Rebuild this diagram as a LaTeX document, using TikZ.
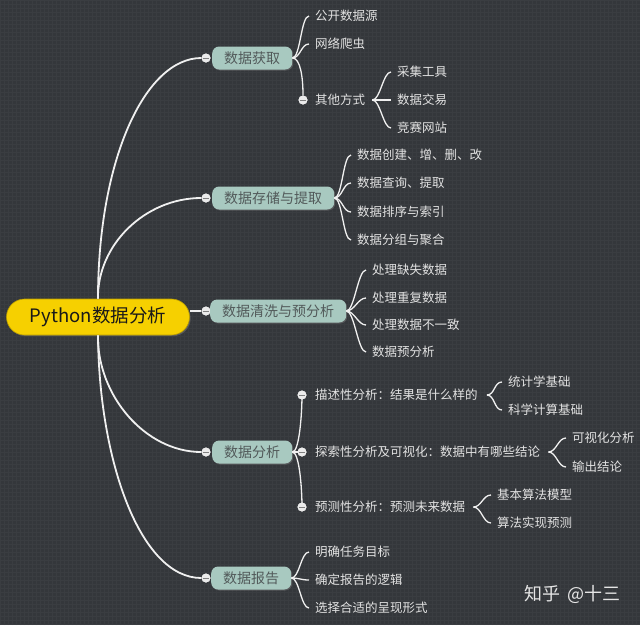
\documentclass[tikz,border=0pt]{standalone}
\usepackage{fontspec}
\setmainfont{Noto Sans CJK SC}
\usetikzlibrary{shadows}
\definecolor{bgc}{RGB}{52,55,59}
\definecolor{gridc}{RGB}{58,61,65}
\definecolor{branchfill}{RGB}{168,201,192}
\definecolor{rootfill}{RGB}{246,208,0}
\definecolor{leaftext}{RGB}{226,226,226}
\definecolor{branchtext}{RGB}{82,90,90}
\definecolor{linec}{RGB}{240,240,240}
\newcommand\brc[3][8]{\draw[conn] (#2) .. controls +(#1,0) and +(-#1,0) .. ([xshift=-6pt]#3.west);}
\begin{document}
\begin{tikzpicture}[x=1pt,y=-1pt,
  rootbox/.style={draw=rootfill!75!black, line width=0.6pt, fill=rootfill, rounded corners=18pt,
    minimum width=183pt, minimum height=36pt, inner sep=0pt,
    font=\fontsize{18.5}{20}\selectfont, text=black!90,
    drop shadow={opacity=0.45, shadow xshift=1.2pt, shadow yshift=-1.2pt}},
  branch/.style={fill=branchfill, rounded corners=7pt, minimum height=23pt, inner xsep=12pt,
    inner ysep=0pt, font=\fontsize{14}{16}\selectfont, text=branchtext, anchor=west,
    drop shadow={opacity=0.45, shadow xshift=1pt, shadow yshift=-1pt}},
  leaf/.style={anchor=west, inner xsep=0pt, inner ysep=1pt, font=\fontsize{12.5}{14}\selectfont, text=leaftext},
  dot/.style={circle, fill=white!92!black, minimum size=9pt, inner sep=0pt,
    path picture={\draw[gray, line width=1pt] ([xshift=-2.8pt]path picture bounding box.center) -- ([xshift=2.8pt]path picture bounding box.center);}},
  mainline/.style={draw=linec, line width=1.8pt},
  conn/.style={draw=linec, line width=1.3pt},
  mark0/.style={font=\fontsize{18}{20}\selectfont, text=white!90!black, anchor=west}
]
\useasboundingbox (0,0) rectangle (640,625);
\fill[bgc] (0,0) rectangle (640,625);
\draw[gridc, line width=0.3pt] (0,0) grid[step=4pt] (640,625);

% root
\node[rootbox] (R) at (98,317) {Python数据分析};

% dots at branch ends
\node[dot] (d1) at (206,58) {};
\node[dot] (d2) at (206,198) {};
\node[dot] (d3) at (206,311) {};
\node[dot] (d4) at (206,452) {};
\node[dot] (d5) at (206,578) {};

% main curves
\draw[mainline] (R.north) .. controls (98,160) and (145,58) .. (d1.west);
\draw[mainline] (R.north) .. controls (97,245) and (145,198) .. (d2.west);
\draw[mainline] (R.east |- d3) -- (d3.west);
\draw[mainline] (R.south) .. controls (97,395) and (145,452) .. (d4.west);
\draw[mainline] (R.south) .. controls (99,460) and (140,578) .. (d5.west);
\node[dot] at (d1) {};
\node[dot] at (d2) {};
\node[dot] at (d3) {};
\node[dot] at (d4) {};
\node[dot] at (d5) {};

% branch nodes
\node[branch] (b1) at (212,58) {数据获取};
\node[branch] (b2) at (212,198) {数据存储与提取};
\node[branch] (b3) at (210,311) {数据清洗与预分析};
\node[branch] (b4) at (212,452) {数据分析};
\node[branch] (b5) at (211,578) {数据报告};

% branch 1
\node[leaf] (l11) at (315,16) {公开数据源};
\node[leaf] (l12) at (315,44) {网络爬虫};
\node[dot] (d13) at (303,100) {};
\node[leaf] (l13) at (315,100) {其他方式};
\brc{b1.east}{l11}
\brc{b1.east}{l12}
\draw[conn] (b1.east) .. controls +(8,0) and +(0,-18) .. (d13.north);
\node[dot] at (d13) {};
\coordinate (t13) at ([xshift=7pt]l13.east);
\node[leaf] (l131) at (397,72) {采集工具};
\node[leaf] (l132) at (397,100) {数据交易};
\node[leaf] (l133) at (397,128) {竞赛网站};
\brc{t13}{l131}
\brc{t13}{l132}
\brc{t13}{l133}

% branch 2
\node[leaf] (l21) at (357,155) {数据创建、增、删、改};
\node[leaf] (l22) at (357,183) {数据查询、提取};
\node[leaf] (l23) at (357,212) {数据排序与索引};
\node[leaf] (l24) at (357,240) {数据分组与聚合};
\brc{b2.east}{l21}
\brc{b2.east}{l22}
\brc{b2.east}{l23}
\brc{b2.east}{l24}

% branch 3
\node[leaf] (l31) at (372,270) {处理缺失数据};
\node[leaf] (l32) at (372,298) {处理重复数据};
\node[leaf] (l33) at (372,325) {处理数据不一致};
\node[leaf] (l34) at (372,352) {数据预分析};
\brc{b3.east}{l31}
\brc{b3.east}{l32}
\brc{b3.east}{l33}
\brc{b3.east}{l34}

% branch 4
\node[dot] (d41) at (302,395) {};
\node[dot] (d42) at (302,452) {};
\node[dot] (d43) at (302,507) {};
\draw[conn] (b4.east) .. controls +(7,0) and +(0,18) .. (d41.center);
\draw[conn] (b4.east) -- (d42.center);
\draw[conn] (b4.east) .. controls +(7,0) and +(0,-18) .. (d43.center);
\node[dot] at (d41) {};
\node[dot] at (d42) {};
\node[dot] at (d43) {};
\node[leaf] (l41) at (315,395) {描述性分析：结果是什么样的};
\node[leaf] (l42) at (315,452) {探索性分析及可视化：数据中有哪些结论};
\node[leaf] (l43) at (315,507) {预测性分析：预测未来数据};
\coordinate (t41) at ([xshift=9pt]l41.east);
\coordinate (t42) at ([xshift=8pt]l42.east);
\coordinate (t43) at ([xshift=8pt]l43.east);
\node[leaf] (l411) at (508,382) {统计学基础};
\node[leaf] (l412) at (508,410) {科学计算基础};
\node[leaf] (l421) at (572,438) {可视化分析};
\node[leaf] (l422) at (572,467) {输出结论};
\node[leaf] (l431) at (497,495) {基本算法模型};
\node[leaf] (l432) at (497,523) {算法实现预测};
\brc{t41}{l411}
\brc{t41}{l412}
\brc{t42}{l421}
\brc{t42}{l422}
\brc{t43}{l431}
\brc{t43}{l432}

% branch 5
\node[leaf] (l51) at (315,552) {明确任务目标};
\node[leaf] (l52) at (315,580) {确定报告的逻辑};
\node[leaf] (l53) at (315,608) {选择合适的呈现形式};
\brc{b5.east}{l51}
\brc{b5.east}{l52}
\brc{b5.east}{l53}

% watermark
\node[mark0] (wm) at (521,594) {知乎\hspace{7pt}@十三};
\end{tikzpicture}
\end{document}
